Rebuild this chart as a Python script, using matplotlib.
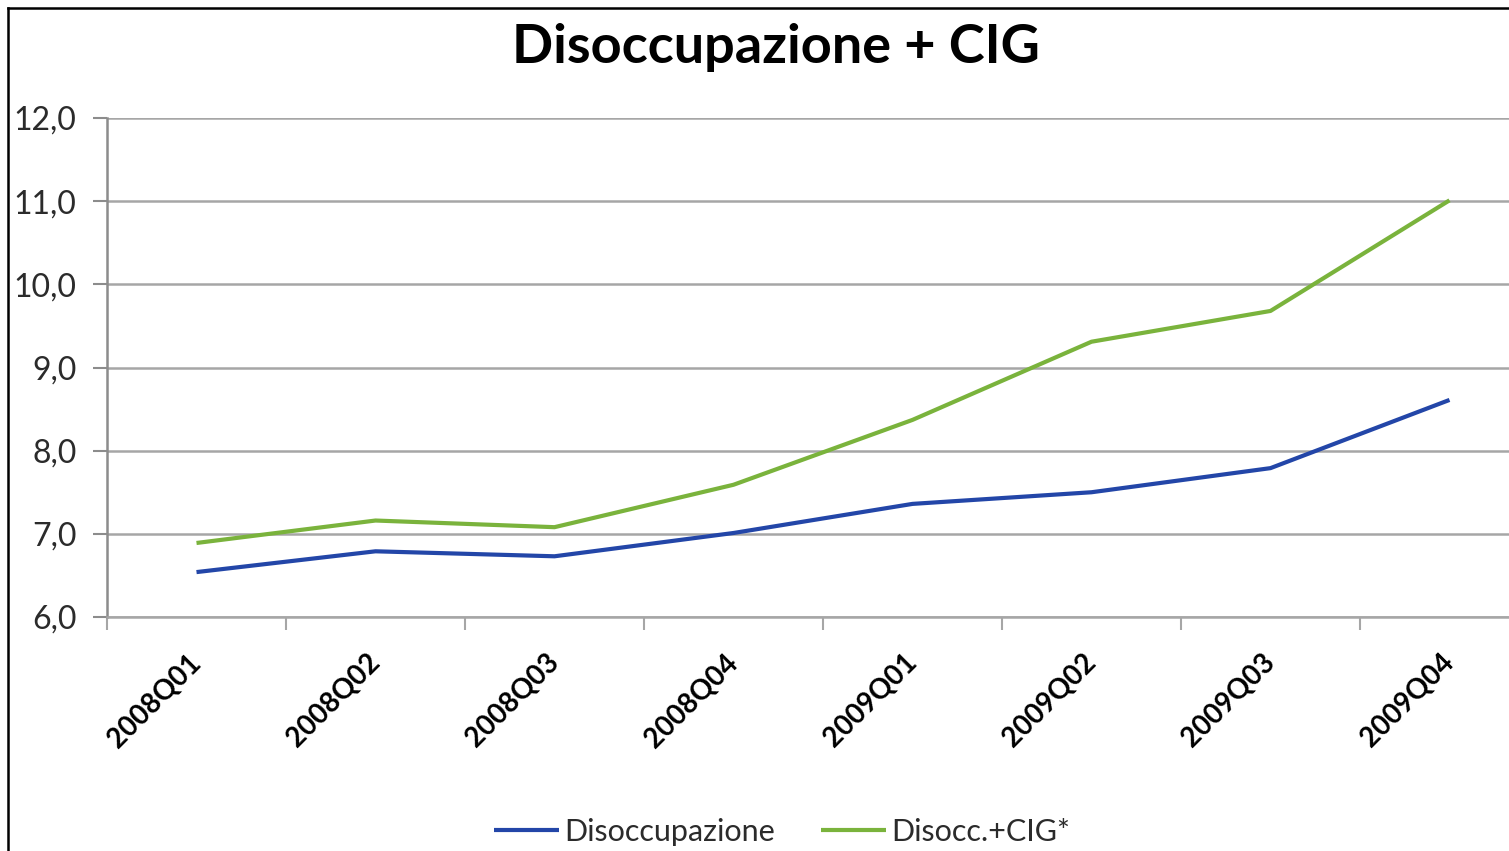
import matplotlib.pyplot as plt
import matplotlib.ticker as mticker
import numpy as np

# data
periods = ['2008Q01', '2008Q02', '2008Q03', '2008Q04',
           '2009Q01', '2009Q02', '2009Q03', '2009Q04']
disoccupazione = [6.54, 6.79, 6.73, 7.01, 7.36, 7.50, 7.79, 8.61]
disocc_cig = [6.89, 7.16, 7.08, 7.59, 8.37, 9.31, 9.68, 11.01]

plt.rcParams['font.family'] = ['Lato', 'DejaVu Sans']

fig = plt.figure(figsize=(15.09, 8.51), dpi=100)
W, H = 1509, 851

# outer frame, only left and top edges are visible in the crop
fig.add_artist(plt.Line2D([8 / W, 8 / W], [0, 1 - 8 / H], color='black', lw=1.8))
fig.add_artist(plt.Line2D([8 / W, 1], [1 - 8 / H, 1 - 8 / H], color='black', lw=1.8))

ax = fig.add_axes([107 / W, 1 - 617 / H, 1 - 107 / W, (617 - 118) / H])
x = np.arange(len(periods))

ax.plot(x, disoccupazione, color='#2346A8', lw=3.0, label='Disoccupazione', solid_capstyle='butt')
ax.plot(x, disocc_cig, color='#7AB33C', lw=3.0, label='Disocc.+CIG*', solid_capstyle='butt')

ax.yaxis.set_major_locator(mticker.MultipleLocator(1))
ax.yaxis.set_major_formatter(mticker.FuncFormatter(lambda v, p: f'{v:.1f}'.replace('.', ',')))
ax.grid(axis='y', color='#a6a6a6', lw=1.8)
ax.set_axisbelow(True)

for s in ['top', 'right']:
    ax.spines[s].set_visible(False)
ax.spines['left'].set_color('#8c8c8c')
ax.spines['left'].set_linewidth(1.8)
ax.spines['bottom'].set_color('#a6a6a6')
ax.spines['bottom'].set_linewidth(1.8)

ax.tick_params(axis='y', length=10, width=1.5, color='#8c8c8c', labelsize=23,
               labelcolor='#2b2b2b', pad=12)

ax.set_xticks(x)
ax.set_xticklabels(periods, rotation=45, ha='right', va='center',
                   rotation_mode='anchor', fontsize=20, fontweight='bold')
ax.set_xticks(np.arange(-0.5, len(periods), 1), minor=True)
ax.tick_params(axis='x', which='major', length=0, pad=30)
ax.tick_params(axis='x', which='minor', length=9, width=1.5, color='#a6a6a6')

# limits after the ticks, set_xticks widens the view
ax.set_ylim(6, 12)
ax.set_xlim(-0.5, -0.5 + (W - 107) / 179)

fig.text(776 / W, 1 - 47 / H, 'Disoccupazione + CIG', fontsize=39, fontweight='bold',
         ha='center', va='center')

fig.legend(loc='center', bbox_to_anchor=(0.518, 1 - 832 / H), ncol=2, frameon=False,
           fontsize=22, handlelength=2.15, handletextpad=0.15, columnspacing=1.5,
           labelcolor='#2b2b2b')

fig.savefig('out.png', dpi=100)
